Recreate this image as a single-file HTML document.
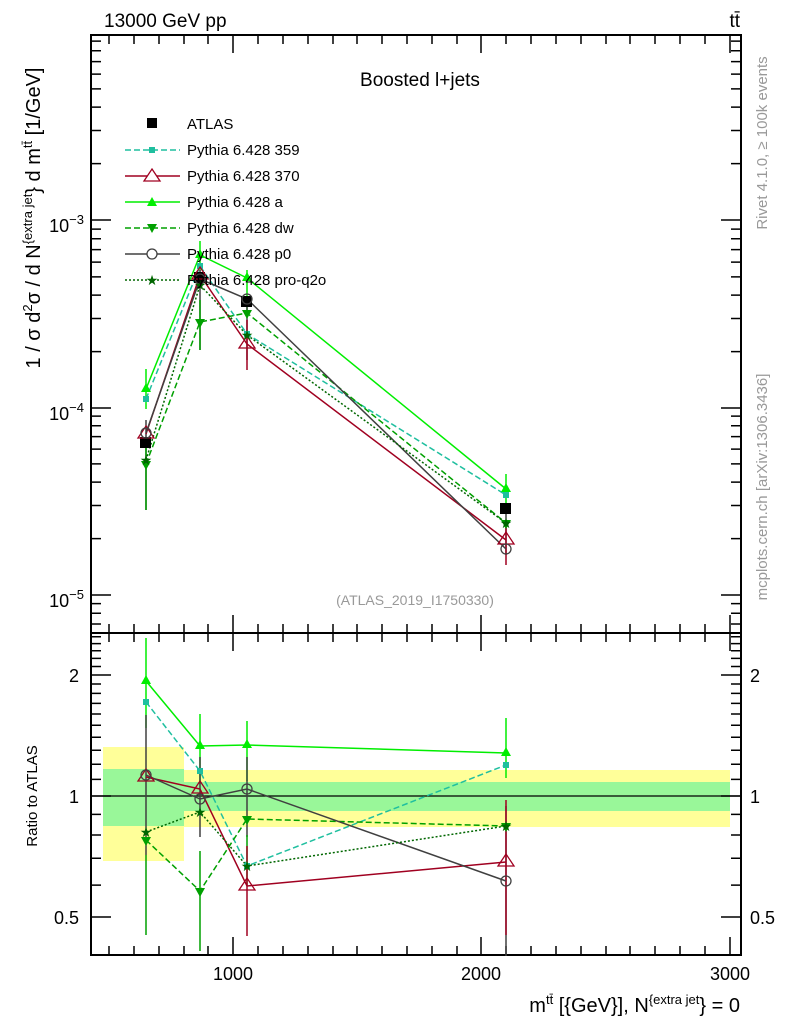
<!DOCTYPE html>
<html><head><meta charset="utf-8"><style>body{margin:0;background:#fff}svg{display:block}text{font-family:"Liberation Sans",sans-serif}</style></head><body>
<svg width="786" height="1024" viewBox="0 0 786 1024" xmlns="http://www.w3.org/2000/svg">
<rect x="103" y="747" width="81" height="114" fill="#ffff99"/>
<rect x="103" y="769" width="81" height="57" fill="#99f799"/>
<rect x="184" y="770" width="546" height="57" fill="#ffff99"/>
<rect x="184" y="782" width="546" height="29" fill="#99f799"/>
<line x1="91" y1="796" x2="741" y2="796" stroke="#000" stroke-width="1.3"/>
<rect x="91" y="35" width="650" height="598" fill="none" stroke="#000" stroke-width="2"/>
<rect x="91" y="633" width="650" height="322" fill="none" stroke="#000" stroke-width="2"/>
<g stroke="#000" stroke-width="1.5">
<path d="M91 220h20M91 408h20M91 595h20M741 220h-20M741 408h-20M741 595h-20"/>
<path d="M91 163.6h10M91 130.5h10M91 107.1h10M91 88.9h10M91 74.1h10M91 61.6h10M91 50.7h10M91 41.1h10M91 351.6h10M91 318.5h10M91 295.1h10M91 276.9h10M91 262.1h10M91 249.6h10M91 238.7h10M91 229.1h10M91 538.6h10M91 505.5h10M91 482.1h10M91 463.9h10M91 449.1h10M91 436.6h10M91 425.7h10M91 416.1h10M91 624h10M91 613.2h10M91 603.6h10"/>
<path d="M741 163.6h-10M741 130.5h-10M741 107.1h-10M741 88.9h-10M741 74.1h-10M741 61.6h-10M741 50.7h-10M741 41.1h-10M741 351.6h-10M741 318.5h-10M741 295.1h-10M741 276.9h-10M741 262.1h-10M741 249.6h-10M741 238.7h-10M741 229.1h-10M741 538.6h-10M741 505.5h-10M741 482.1h-10M741 463.9h-10M741 449.1h-10M741 436.6h-10M741 425.7h-10M741 416.1h-10M741 624h-10M741 613.2h-10M741 603.6h-10"/>
<path d="M91 917h20M91 796h20M91 675h20M741 917h-20M741 796h-20M741 675h-20"/>
<path d="M91 885.1h10M91 858.3h10M91 835h10M91 814.4h10M91 779.4h10M91 764.2h10M91 750.2h10M91 737.3h10M91 725.2h10M91 714h10M91 703.4h10M91 693.4h10M91 684h10M91 666.5h10M91 658.4h10M91 650.8h10M91 643.6h10M91 636.8h10"/>
<path d="M741 885.1h-10M741 858.3h-10M741 835h-10M741 814.4h-10M741 779.4h-10M741 764.2h-10M741 750.2h-10M741 737.3h-10M741 725.2h-10M741 714h-10M741 703.4h-10M741 693.4h-10M741 684h-10M741 666.5h-10M741 658.4h-10M741 650.8h-10M741 643.6h-10M741 636.8h-10"/>
<path d="M233 955v-18M481 955v-18M730 955v-18M233 633v18M481 633v18M730 633v18M233 633v-18M481 633v-18M730 633v-18M233 35v18M481 35v18M730 35v18"/>
<path d="M109 955v-9M134 955v-9M159 955v-9M184 955v-9M208 955v-9M258 955v-9M283 955v-9M308 955v-9M333 955v-9M357 955v-9M382 955v-9M407 955v-9M432 955v-9M457 955v-9M506 955v-9M531 955v-9M556 955v-9M581 955v-9M606 955v-9M630 955v-9M655 955v-9M680 955v-9M705 955v-9"/>
<path d="M109 633v9M134 633v9M159 633v9M184 633v9M208 633v9M258 633v9M283 633v9M308 633v9M333 633v9M357 633v9M382 633v9M407 633v9M432 633v9M457 633v9M506 633v9M531 633v9M556 633v9M581 633v9M606 633v9M630 633v9M655 633v9M680 633v9M705 633v9"/>
<path d="M109 633v-9M134 633v-9M159 633v-9M184 633v-9M208 633v-9M258 633v-9M283 633v-9M308 633v-9M333 633v-9M357 633v-9M382 633v-9M407 633v-9M432 633v-9M457 633v-9M506 633v-9M531 633v-9M556 633v-9M581 633v-9M606 633v-9M630 633v-9M655 633v-9M680 633v-9M705 633v-9"/>
<path d="M109 35v9M134 35v9M159 35v9M184 35v9M208 35v9M258 35v9M283 35v9M308 35v9M333 35v9M357 35v9M382 35v9M407 35v9M432 35v9M457 35v9M506 35v9M531 35v9M556 35v9M581 35v9M606 35v9M630 35v9M655 35v9M680 35v9M705 35v9"/>
</g>
<g stroke-width="1.5">
<path d="M146 369v40M200 241v30M247 270v40M506 474v30" stroke="#00ee00"/>
<path d="M146 420v90M200 270v80M247 300v60M506 505v50" stroke="#404040"/>
<path d="M200 300v50M146 440v70" stroke="#00a000"/>
<path d="M247 320v50M506 520v45" stroke="#a00020"/>
</g>
<g fill="none" stroke-width="1.5">
<polyline points="146,399 200,266 247,334 506,495" stroke="#1fbf9f" stroke-dasharray="6,3"/>
<polyline points="146,434 200,275 247,344 506,540" stroke="#a00020"/>
<polyline points="146,389 200,255 247,278 506,489" stroke="#00ee00"/>
<polyline points="146,464 200,322 247,313 506,523" stroke="#00a000" stroke-dasharray="6,3"/>
<polyline points="146,433 200,279 247,299 506,549" stroke="#404040"/>
<polyline points="146,460 200,285 247,335 506,523" stroke="#006600" stroke-dasharray="2,2"/>
</g>
<g fill="#000"><rect x="140" y="437" width="11" height="11"/><rect x="194" y="272" width="11" height="11"/><rect x="241" y="296" width="11" height="11"/><rect x="500" y="503" width="11" height="11"/></g>
<g fill="#1fbf9f"><rect x="143" y="396" width="6" height="6"/><rect x="197" y="263" width="6" height="6"/><rect x="244" y="331" width="6" height="6"/><rect x="503" y="492" width="6" height="6"/></g>
<g fill="#00ee00"><path d="M146 383l5 9h-10zM200 249l5 9h-10zM247 272l5 9h-10zM506 483l5 9h-10z"/></g>
<g fill="#00a000"><path d="M146 470l5-9h-10zM200 328l5-9h-10zM247 319l5-9h-10zM506 529l5-9h-10z"/></g>
<g fill="none" stroke="#a00020" stroke-width="1.3"><path d="M146 426l8 12h-16zM200 267l8 12h-16zM247 336l8 12h-16zM506 532l8 12h-16z"/></g>
<g fill="none" stroke="#404040" stroke-width="1.3"><circle cx="146" cy="433" r="5"/><circle cx="200" cy="279" r="5"/><circle cx="247" cy="299" r="5"/><circle cx="506" cy="549" r="5"/></g>
<g fill="#006600" font-size="14" text-anchor="middle"><text x="146" y="465">★</text><text x="200" y="290">★</text><text x="247" y="340">★</text><text x="506" y="528">★</text></g>
<g stroke-width="1.5">
<path d="M146 638v90M200 714v70M247 721v60M506 718v60" stroke="#00ee00"/>
<path d="M146 715v140M200 757v80M247 757v80M506 806v150" stroke="#404040"/>
<path d="M146 855v80M200 851v100M247 835v50" stroke="#00a000"/>
<path d="M247 846v90M506 800v135" stroke="#a00020"/>
</g>
<g fill="none" stroke-width="1.5">
<polyline points="146,702 200,771 247,866 506,765" stroke="#1fbf9f" stroke-dasharray="6,3"/>
<polyline points="146,777 200,789 247,886 506,862" stroke="#a00020"/>
<polyline points="146,681 200,746 247,745 506,753" stroke="#00ee00"/>
<polyline points="146,840 200,891 247,819 506,826" stroke="#00a000" stroke-dasharray="6,3"/>
<polyline points="146,775 200,799 247,789 506,881" stroke="#404040"/>
<polyline points="146,832 200,812 247,866 506,826" stroke="#006600" stroke-dasharray="2,2"/>
</g>
<g fill="#1fbf9f"><rect x="143" y="699" width="6" height="6"/><rect x="197" y="768" width="6" height="6"/><rect x="244" y="863" width="6" height="6"/><rect x="503" y="762" width="6" height="6"/></g>
<g fill="#00ee00"><path d="M146 675l5 9h-10zM200 740l5 9h-10zM247 739l5 9h-10zM506 747l5 9h-10z"/></g>
<g fill="#00a000"><path d="M146 846l5-9h-10zM200 897l5-9h-10zM247 825l5-9h-10zM506 832l5-9h-10z"/></g>
<g fill="none" stroke="#a00020" stroke-width="1.3"><path d="M146 769l8 12h-16zM200 781l8 12h-16zM247 878l8 12h-16zM506 854l8 12h-16z"/></g>
<g fill="none" stroke="#404040" stroke-width="1.3"><circle cx="146" cy="775" r="5"/><circle cx="200" cy="799" r="5"/><circle cx="247" cy="789" r="5"/><circle cx="506" cy="881" r="5"/></g>
<g fill="#006600" font-size="14" text-anchor="middle"><text x="146" y="837">★</text><text x="200" y="817">★</text><text x="247" y="871">★</text><text x="506" y="831">★</text></g>
<rect x="147" y="118" width="10" height="10" fill="#000"/>
<g fill="none" stroke-width="1.5">
<line x1="125" y1="150" x2="180" y2="150" stroke="#1fbf9f" stroke-dasharray="6,3"/>
<line x1="125" y1="176" x2="180" y2="176" stroke="#a00020"/>
<line x1="125" y1="202" x2="180" y2="202" stroke="#00ee00"/>
<line x1="125" y1="228" x2="180" y2="228" stroke="#00a000" stroke-dasharray="6,3"/>
<line x1="125" y1="254" x2="180" y2="254" stroke="#404040"/>
<line x1="125" y1="280" x2="180" y2="280" stroke="#006600" stroke-dasharray="2,2"/>
</g>
<rect x="149" y="147" width="6" height="6" fill="#1fbf9f"/>
<path d="M152 169l8 12h-16z" fill="#fff" stroke="#a00020" stroke-width="1.3"/>
<path d="M152 197l5 9h-10z" fill="#00ee00"/>
<path d="M152 233l5-9h-10z" fill="#00a000"/>
<circle cx="152" cy="254" r="5" fill="#fff" stroke="#404040" stroke-width="1.3"/>
<text x="152" y="285" font-size="14" text-anchor="middle" fill="#006600">★</text>
<g font-size="15" fill="#000">
<text x="187" y="129">ATLAS</text><text x="187" y="155">Pythia 6.428 359</text><text x="187" y="181">Pythia 6.428 370</text><text x="187" y="207">Pythia 6.428 a</text><text x="187" y="233">Pythia 6.428 dw</text><text x="187" y="259">Pythia 6.428 p0</text><text x="187" y="285">Pythia 6.428 pro-q2o</text>
</g>
<text x="104" y="27" font-size="19">13000 GeV pp</text>
<text x="740" y="27" font-size="19" text-anchor="end">tt̄</text>
<text x="420" y="86" font-size="19" text-anchor="middle">Boosted l+jets</text>
<text x="415" y="605" font-size="14" fill="#999" text-anchor="middle">(ATLAS_2019_I1750330)</text>
<g font-size="18" text-anchor="end"><text x="84" y="232">10<tspan dy="-8" font-size="13">−3</tspan></text><text x="84" y="420">10<tspan dy="-8" font-size="13">−4</tspan></text><text x="84" y="607">10<tspan dy="-8" font-size="13">−5</tspan></text>
<text x="79" y="682">2</text><text x="79" y="803">1</text><text x="79" y="924">0.5</text></g>
<g font-size="18"><text x="750" y="682">2</text><text x="750" y="803">1</text><text x="750" y="924">0.5</text></g>
<g font-size="18" text-anchor="middle"><text x="233" y="980">1000</text><text x="481" y="980">2000</text><text x="730" y="980">3000</text></g>
<text x="740" y="1012" font-size="20" text-anchor="end">m<tspan dy="-8" font-size="13">tt̄</tspan><tspan dy="8"> [{GeV}], N</tspan><tspan dy="-8" font-size="13">{extra jet</tspan><tspan dy="8">} = 0</tspan></text>
<text transform="translate(40,218) rotate(-90)" font-size="20" text-anchor="middle">1 / σ d<tspan dy="-8" font-size="13">2</tspan><tspan dy="8">σ / d N</tspan><tspan dy="-8" font-size="13">{extra jet</tspan><tspan dy="8">} d m</tspan><tspan dy="-8" font-size="13">tt̄</tspan><tspan dy="8"> [1/GeV]</tspan></text>
<text transform="translate(37,796) rotate(-90)" font-size="15" text-anchor="middle">Ratio to ATLAS</text>
<text transform="translate(767,143) rotate(-90)" font-size="15" fill="#999" text-anchor="middle">Rivet 4.1.0, ≥ 100k events</text>
<text transform="translate(767,487) rotate(-90)" font-size="15" fill="#999" text-anchor="middle">mcplots.cern.ch [arXiv:1306.3436]</text>
</svg>
</body></html>
